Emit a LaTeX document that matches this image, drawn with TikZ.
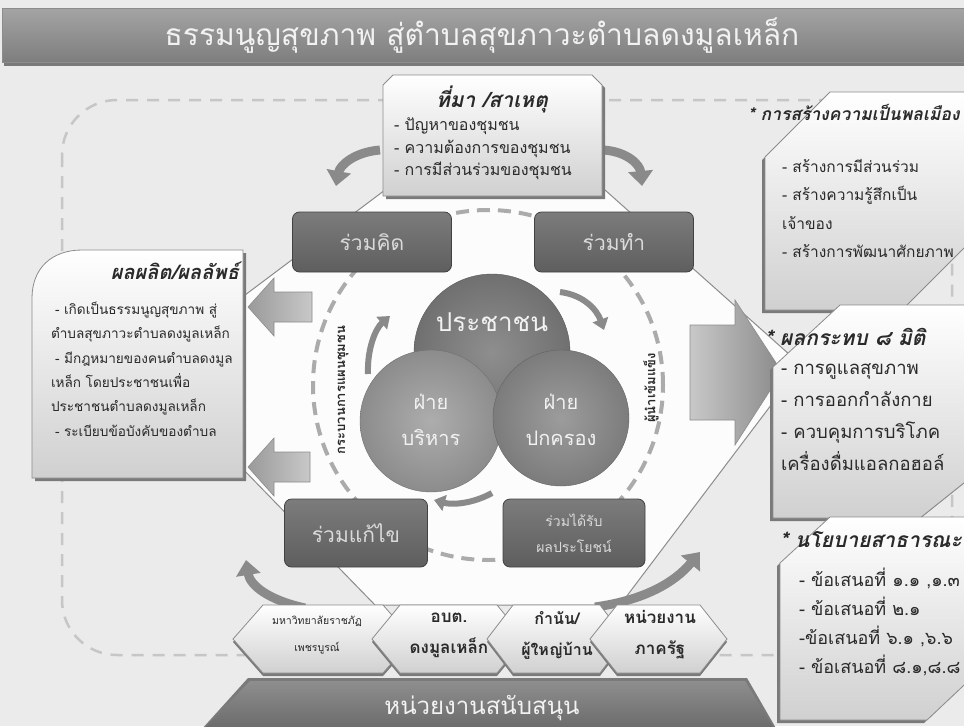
\documentclass[tikz,border=0pt]{standalone}
\usepackage{fontspec}
\setmainfont{Loma}[Script=Thai]
\usetikzlibrary{arrows.meta}
\definecolor{bgc}{HTML}{EBEBEB}
\definecolor{octc}{HTML}{FCFCFC}
\definecolor{linec}{HTML}{8C8C8C}
\definecolor{dashc}{HTML}{C6C6C6}
\definecolor{cdash}{HTML}{ABABAB}
\definecolor{boxtop}{HTML}{7C7C7C}
\definecolor{boxbot}{HTML}{5E5E5E}
\definecolor{boxtxt}{HTML}{DADADA}
\definecolor{paltop}{HTML}{FFFFFF}
\definecolor{palbot}{HTML}{D0D0D0}
\definecolor{shadc}{HTML}{7A7A7A}
\definecolor{lightc}{HTML}{F2F2F2}
\definecolor{txtc}{HTML}{2A2A2A}
\definecolor{arrc}{HTML}{9A9A9A}
\definecolor{arrl}{HTML}{C8C8C8}
\definecolor{swc}{HTML}{8A8A8A}
\definecolor{cain}{HTML}{8E8E8E}\definecolor{caout}{HTML}{707070}
\definecolor{cbin}{HTML}{ADADAD}\definecolor{cbout}{HTML}{8C8C8C}
\definecolor{ccin}{HTML}{9C9C9C}\definecolor{ccout}{HTML}{7C7C7C}
\definecolor{titletop}{HTML}{A4A4A4}
\definecolor{titlebot}{HTML}{7E7E7E}
\definecolor{bantop}{HTML}{8E8E8E}
\definecolor{banbot}{HTML}{6A6A6A}
\newcommand{\fs}[2]{\fontsize{#1}{#2}\selectfont}
\begin{document}
\begin{tikzpicture}[x=1pt,y=-1pt,
  txt/.style={inner sep=0pt,outer sep=0pt,text=txtc},
  darkbox/.style={rounded corners=7pt,draw=boxbot!70!black,line width=0.8pt,top color=boxtop,bottom color=boxbot,text=boxtxt,inner sep=0pt},
  pale/.style={top color=paltop,bottom color=palbot,draw=linec,line width=0.8pt},
  shd/.style={fill=shadc},
  swoosh/.style={draw=swc,line width=9pt,-{Triangle[width=24pt,length=15pt]}},
  smallsw/.style={draw=swc,line width=6pt,-{Triangle[width=16pt,length=11pt]}},
  blockarr/.style={left color=arrc,right color=arrl,draw=linec,line width=0.6pt},
  lttxt/.style={inner sep=0pt,outer sep=0pt,text=lightc},
]
\useasboundingbox (0,0) rectangle (964,726);
\clip (0,0) rectangle (964,726);
\fill[bgc] (0,0) rectangle (964,726);

% title bar
\fill[shd] (4,12) rectangle (970,66);
\shade[top color=titletop,bottom color=titlebot] (2,8) rectangle (970,62);
\draw[linec] (2,8) rectangle (970,62);
\node[lttxt,font=\fs{30}{36}] (title) at (482,36) {ธรรมนูญสุขภาพ สู่ตำบลสุขภาวะตำบลดงมูลเหล็ก};

% dashed frame
\draw[dashc,line width=2.5pt,dash pattern=on 12pt off 9pt,rounded corners=55pt] (62,100) rectangle (952,655);

% octagon
\filldraw[fill=octc,draw=linec,line width=1pt] (385,190) -- (605,190) -- (790,355) -- (790,380) -- (620,605) -- (375,605) -- (205,430) -- (205,325) -- cycle;

% dashed circle
\draw[cdash,line width=4pt,dash pattern=on 13pt off 8pt] (488,385) circle[radius=175pt];

% block arrows
\path[blockarr] (312,292) -- (274,292) -- (274,278) -- (248,307) -- (274,336) -- (274,322) -- (312,322) -- cycle;
\path[blockarr] (310,452) -- (274,452) -- (274,438) -- (248,467) -- (274,496) -- (274,482) -- (310,482) -- cycle;
\path[left color=arrl,right color=swc,draw=linec,line width=0.6pt] (690,325) -- (735,325) -- (735,300) -- (782,372) -- (735,445) -- (735,420) -- (690,420) -- cycle;

% top swooshes
\draw[swoosh] (380,150) .. controls (355,152) and (340,165) .. (336,186);
\draw[swoosh] (604,150) .. controls (628,152) and (640,165) .. (642,186);

% top box
\begin{scope}[shift={(3,3)}]
\fill[shd] (383,85) -- (393,75) -- (592,75) -- (602,85) -- (602,196) -- (383,196) -- cycle;
\end{scope}
\path[pale] (383,85) -- (393,75) -- (592,75) -- (602,85) -- (602,196) -- (383,196) -- cycle;
\node[txt,font=\bfseries\itshape\fs{21}{24}] (srctitle) at (492,99) {ที่มา /สาเหตุ};
\node[txt,anchor=north west,align=left,font=\fs{16}{22.5}] (srclist) at (394,118) {- ปัญหาของชุมชน\\- ความต้องการของชุมชน\\- การมีส่วนร่วมของชุมชน};

% dark boxes
\node[darkbox,minimum width=159pt,minimum height=60pt,font=\fs{21}{24}] (kid) at (372,242) {ร่วมคิด};
\node[darkbox,minimum width=159pt,minimum height=60pt,font=\fs{21}{24}] (tham) at (614,242) {ร่วมทำ};
\node[darkbox,minimum width=143pt,minimum height=68pt,font=\fs{21}{24}] (kae) at (356,533) {ร่วมแก้ไข};
\node[darkbox,minimum width=142pt,minimum height=68pt,font=\fs{14}{26},align=center] (rap) at (574,533) {ร่วมได้รับ\\ผลประโยชน์};

% circles
\node[circle,minimum size=156pt,inner sep=0pt,inner color=cain,outer color=caout,draw=caout!80!black] (pra) at (492,352) {};
\node[circle,minimum size=142pt,inner sep=0pt,inner color=cbin,outer color=cbout,draw=cbout!80!black] (bor) at (431,421) {};
\node[circle,minimum size=136pt,inner sep=0pt,inner color=ccin,outer color=ccout,draw=ccout!80!black] (pok) at (561,418) {};
\node[lttxt,font=\fs{26}{30}] (pratxt) at (492,322) {ประชาชน};
\node[lttxt,align=center,font=\fs{20}{36}] (bortxt) at (431,420) {ฝ่าย\\บริหาร};
\node[lttxt,align=center,font=\fs{20}{36}] (poktxt) at (561,420) {ฝ่าย\\ปกครอง};

% inner arrows
\draw[smallsw] (368,374) .. controls (367,348) and (376,328) .. (390,316);
\draw[smallsw] (560,292) .. controls (584,295) and (597,310) .. (604,330);
\draw[smallsw] (492,493) .. controls (472,504) and (452,505) .. (434,500);

% rotated labels
\node[txt,rotate=90,font=\bfseries\fs{13}{16}] (plan) at (343,390) {กระบวนการแผนชุมชน};
\node[txt,rotate=90,font=\bfseries\fs{13}{16}] (lead) at (651,388) {ผู้นำเข้มแข็ง};

% left box
\begin{scope}[shift={(3,3)}]
\fill[shd] (32,478) -- (32,298) .. controls (32,268) and (52,250) .. (82,250) -- (243,250) -- (243,478) -- cycle;
\end{scope}
\path[pale] (32,478) -- (32,298) .. controls (32,268) and (52,250) .. (82,250) -- (243,250) -- (243,478) -- cycle;
\node[txt,anchor=east,font=\bfseries\itshape\fs{20}{24}] (outtitle) at (239,271) {ผลผลิต/ผลลัพธ์};
\node[txt,anchor=north west,align=left,font=\fs{13.6}{24.3}] (outlist) at (51,302) {\hspace*{4pt}- เกิดเป็นธรรมนูญสุขภาพ สู่\\ตำบลสุขภาวะตำบลดงมูลเหล็ก\\\hspace*{4pt}- มีกฎหมายของคนตำบลดงมูล\\เหล็ก โดยประชาชนเพื่อ\\ประชาชนตำบลดงมูลเหล็ก\\\hspace*{4pt}- ระเบียบข้อบังคับของตำบล};

% right box 1
\begin{scope}[shift={(-3,3)}]
\fill[shd] (765,157) -- (830,92) -- (980,92) -- (980,232) -- (902,310) -- (765,310) -- cycle;
\end{scope}
\path[pale] (765,157) -- (830,92) -- (980,92) -- (980,232) -- (902,310) -- (765,310) -- cycle;
\node[txt,anchor=west,font=\bfseries\itshape\fs{17.5}{20}] (citz) at (748,112) {* การสร้างความเป็นพลเมือง};
\node[txt,anchor=north west,align=left,font=\fs{15.5}{28.5}] (citzlist) at (782,159) {- สร้างการมีส่วนร่วม\\- สร้างความรู้สึกเป็น\\เจ้าของ\\- สร้างการพัฒนาศักยภาพ};

% right box 2
\begin{scope}[shift={(-3,3)}]
\fill[shd] (773,367) -- (840,305) -- (980,305) -- (980,470) -- (920,518) -- (773,518) -- cycle;
\end{scope}
\path[pale] (773,367) -- (840,305) -- (980,305) -- (980,470) -- (920,518) -- (773,518) -- cycle;
\node[txt,anchor=west,font=\bfseries\itshape\fs{21}{24}] (impact) at (765,337) {* ผลกระทบ ๘ มิติ};
\node[txt,anchor=north west,align=left,font=\fs{18.5}{31.7}] (impactlist) at (781,364) {- การดูแลสุขภาพ\\- การออกกำลังกาย\\- ควบคุมการบริโภค\\เครื่องดื่มแอลกอฮอล์};

% right box 3
\begin{scope}[shift={(-3,3)}]
\fill[shd] (780,563) -- (830,517) -- (980,517) -- (980,670) -- (927,720) -- (780,720) -- cycle;
\end{scope}
\path[pale] (780,563) -- (830,517) -- (980,517) -- (980,670) -- (927,720) -- (780,720) -- cycle;
\node[txt,anchor=west,font=\bfseries\itshape\fs{21}{24}] (policy) at (780,540) {* นโยบายสาธารณะ};
\node[txt,anchor=north west,align=left,font=\fs{18}{29}] (policylist) at (799,568) {- ข้อเสนอที่ ๑.๑ ,๑.๓\\- ข้อเสนอที่ ๒.๑\\-ข้อเสนอที่ ๖.๑ ,๖.๖\\- ข้อเสนอที่ ๘.๑,๘.๘};

% bottom swooshes
\draw[swoosh] (305,608) .. controls (268,600) and (250,585) .. (246,560);
\draw[swoosh] (595,607) .. controls (645,600) and (675,582) .. (700,552);

% bottom hexagons
\fill[shd] (233,642) -- (263,608) -- (383,608) -- (413,642) -- (383,676) -- (263,676) -- cycle;
\path[pale] (233,639) -- (263,605) -- (383,605) -- (413,639) -- (383,673) -- (263,673) -- cycle;
\fill[shd] (372,642) -- (400,608) -- (497,608) -- (525,642) -- (497,676) -- (400,676) -- cycle;
\path[pale] (372,639) -- (400,605) -- (497,605) -- (525,639) -- (497,673) -- (400,673) -- cycle;
\fill[shd] (487,642) -- (513,608) -- (600,608) -- (626,642) -- (600,676) -- (513,676) -- cycle;
\path[pale] (487,639) -- (513,605) -- (600,605) -- (626,639) -- (600,673) -- (513,673) -- cycle;
\fill[shd] (590,642) -- (617,608) -- (700,608) -- (727,642) -- (700,676) -- (617,676) -- cycle;
\path[pale] (590,639) -- (617,605) -- (700,605) -- (727,639) -- (700,673) -- (617,673) -- cycle;
\node[txt,align=center,font=\fs{10.5}{27}] (hexa) at (317,635) {มหาวิทยาลัยราชภัฏ\\เพชรบูรณ์};
\node[txt,align=center,font=\bfseries\fs{17}{31}] (hexb) at (449,635) {อบต.\\ดงมูลเหล็ก};
\node[txt,align=center,font=\bfseries\fs{16}{31}] (hexc) at (557,635) {กำนัน/\\ผู้ใหญ่บ้าน};
\node[txt,align=center,font=\bfseries\fs{17}{31}] (hexd) at (660,635) {หน่วยงาน\\ภาครัฐ};

% bottom banner
\fill[shd] (248,678) -- (747,678) -- (777,730) -- (201,730) -- cycle;
\shade[top color=bantop,bottom color=banbot] (250,681) -- (745,681) -- (775,730) -- (203,730) -- cycle;
\node[lttxt,font=\fs{24}{28}] (bantxt) at (482,708) {หน่วยงานสนับสนุน};
\end{tikzpicture}
\end{document}
